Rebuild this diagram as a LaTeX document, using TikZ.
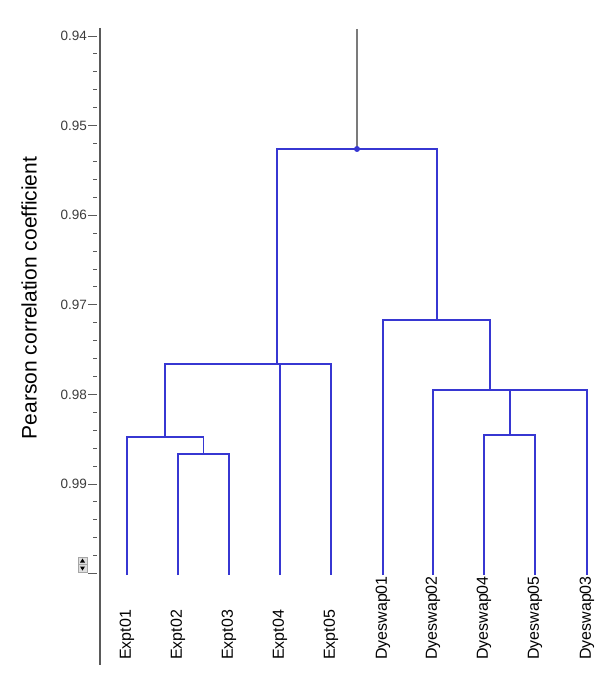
\documentclass[tikz,border=0pt]{standalone}
\usepackage{fontspec}
\setmainfont{Liberation Sans}
\usepackage{tikz}
\usetikzlibrary{positioning, calc}
\definecolor{treeblue}{RGB}{55,55,210}
\definecolor{axisgray}{RGB}{90,90,90}
\definecolor{labelgray}{RGB}{60,60,60}
\tikzset{
  treeline/.style={draw=treeblue, line width=1.2pt},
  stemline/.style={draw=axisgray!80, line width=1.8pt},
  axisline/.style={draw=axisgray, line width=1.8pt},
  ticklabel/.style={anchor=east, inner sep=0pt, text=labelgray,
    font=\fontsize{13.5}{15}\selectfont},
  leaflabel/.style={rotate=90, anchor=west, inner sep=0pt, text=black,
    font=\fontsize{16}{18}\selectfont},
  titlelabel/.style={rotate=90, inner sep=0pt, text=black,
    font=\fontsize{21}{24}\selectfont},
}

\begin{document}
\begin{tikzpicture}[x=1pt, y=-1pt]
      \useasboundingbox (0,0) rectangle (600,692);
      % axis
      \coordinate (axtop) at (100,28);
      \coordinate (axbot) at (100,665);
      \draw[axisline](axtop)--(axbot);
      \foreach \k/\lab in {0/0.94, 1/0.95, 2/0.96, 3/0.97, 4/0.98, 5/0.99}{
        \draw[axisgray, line width=0.9pt](88,36+\k*89.6)--(97,36+\k*89.6);
        \node[ticklabel](tick\k) at (87,36+\k*89.6) {\lab};
      }
      \draw[axisgray, line width=0.9pt](88,573.6)--(97,573.6);
      \foreach \m in {1,...,29}{
        \draw[axisgray, line width=0.9pt](93,36+\m*17.92)--(97,36+\m*17.92);
      }
      \node[titlelabel](ytitle) at (29,298) {Pearson correlation coefficient};
      % spin box
      \draw[fill=gray!25, draw=gray!70](78,557) rectangle (87,564.5);
      \draw[fill=gray!25, draw=gray!70](78,564.5) rectangle (87,572);
      \fill(80,562.5)--(85,562.5)--(82.5,558.5)--cycle;
      \fill(80,566.5)--(85,566.5)--(82.5,570.5)--cycle;
      % leaves
      \coordinate (e01) at (127,575);
      \coordinate (e02) at (178,575);
      \coordinate (e03) at (229,575);
      \coordinate (e04) at (280,575);
      \coordinate (e05) at (331,575);
      \coordinate (d01) at (383,575);
      \coordinate (d02) at (433,575);
      \coordinate (d04) at (484,575);
      \coordinate (d05) at (535,575);
      \coordinate (d03) at (587,575);
      \node[leaflabel](le01) at (127,660) {Expt01};
      \node[leaflabel](le02) at (178,660) {Expt02};
      \node[leaflabel](le03) at (229,660) {Expt03};
      \node[leaflabel](le04) at (280,660) {Expt04};
      \node[leaflabel](le05) at (331,660) {Expt05};
      \node[leaflabel](ld01) at (383,660) {Dyeswap01};
      \node[leaflabel](ld02) at (433,660) {Dyeswap02};
      \node[leaflabel](ld04) at (484,660) {Dyeswap04};
      \node[leaflabel](ld05) at (535,660) {Dyeswap05};
      \node[leaflabel](ld03) at (587,660) {Dyeswap03};
      % merges
      \coordinate (m23) at (203.5,454);
      \coordinate (m123) at (165,437);
      \coordinate (mexpt) at (277,364);
      \coordinate (m45) at (510,435);
      \coordinate (m245) at (490,390);
      \coordinate (mdye) at (437,320);
      \coordinate (root) at (357,149);
      \coordinate (stemtop) at (357,29);
      \draw[treeline](e02) |- (m23) -| (e03);
      \draw[treeline](e01) |- (m123) -| (m23);
      \draw[treeline](m123) |- (mexpt) -| (e05);
      \draw[treeline](e04)--(e04 |- mexpt);
      \draw[treeline](d04) |- (m45) -| (d05);
      \draw[treeline](d02) |- (m245) -| (d03);
      \draw[treeline](m45)--(m45 |- m245);
      \draw[treeline](d01) |- (mdye) -| (m245);
      \draw[treeline](mexpt) |- (root) -| (mdye);
      \draw[stemline](stemtop)--(root);
      \fill[treeblue](root) circle (3pt);
    \end{tikzpicture}
\end{document}
